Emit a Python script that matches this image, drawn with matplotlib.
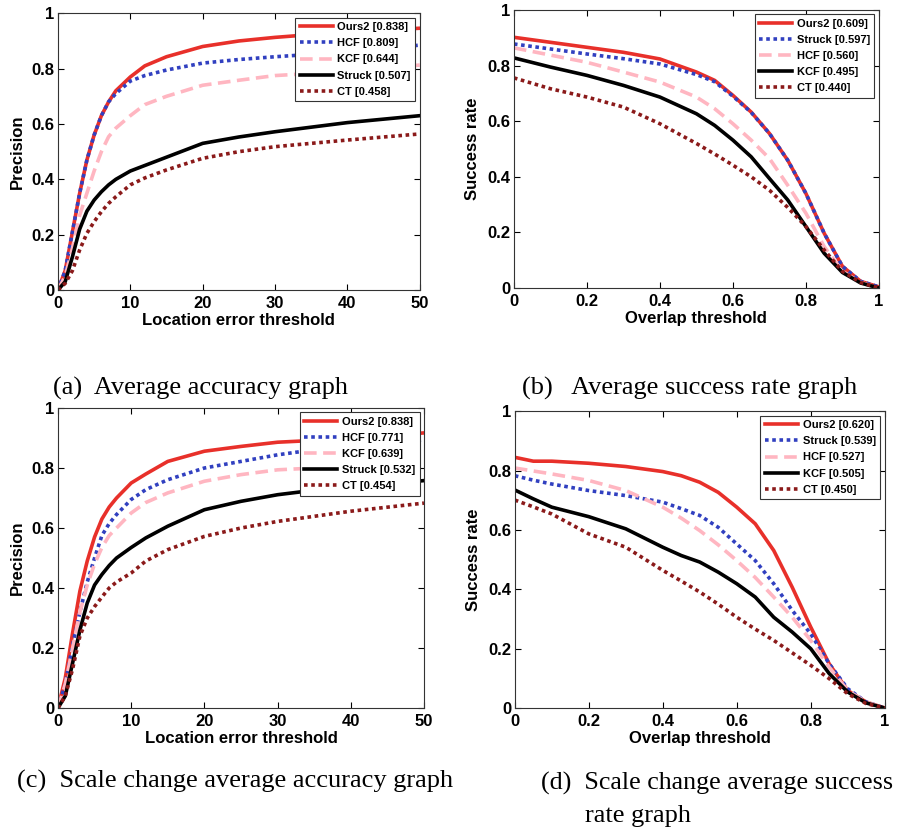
import matplotlib
matplotlib.use('Agg')
import matplotlib.pyplot as plt

plt.rcParams['font.family'] = ['Liberation Sans', 'DejaVu Sans']

# --- (a) average precision ---
a_x = [0, 1, 2, 3, 4, 5, 6, 7, 8, 10, 12, 15, 20, 25, 30, 40, 50]
a_ours2 = [0, 0.07, 0.21, 0.35, 0.47, 0.56, 0.63, 0.68, 0.72, 0.77, 0.81, 0.843, 0.88, 0.90, 0.913, 0.933, 0.946]
a_hcf = [0, 0.07, 0.21, 0.35, 0.47, 0.56, 0.63, 0.68, 0.71, 0.755, 0.775, 0.795, 0.82, 0.833, 0.843, 0.86, 0.885]
a_kcf = [0, 0.05, 0.15, 0.27, 0.35, 0.43, 0.50, 0.554, 0.585, 0.63, 0.67, 0.70, 0.74, 0.758, 0.775, 0.79, 0.813]
a_struck = [0, 0.03, 0.12, 0.22, 0.285, 0.325, 0.355, 0.38, 0.40, 0.43, 0.45, 0.48, 0.53, 0.553, 0.572, 0.605, 0.63]
a_ct = [0, 0.024, 0.07, 0.145, 0.205, 0.247, 0.283, 0.313, 0.337, 0.38, 0.405, 0.434, 0.476, 0.50, 0.518, 0.542, 0.564]

# --- (b) average success rate ---
b_x = [0, 0.1, 0.2, 0.3, 0.4, 0.5, 0.55, 0.6, 0.65, 0.7, 0.75, 0.8, 0.85, 0.9, 0.95, 1.0]
b_ours2 = [0.902, 0.884, 0.866, 0.848, 0.824, 0.777, 0.747, 0.693, 0.633, 0.556, 0.46, 0.34, 0.197, 0.078, 0.024, 0.004]
b_struck = [0.878, 0.86, 0.842, 0.825, 0.806, 0.768, 0.742, 0.69, 0.632, 0.556, 0.46, 0.34, 0.197, 0.078, 0.024, 0.004]
b_hcf = [0.864, 0.838, 0.812, 0.777, 0.741, 0.687, 0.645, 0.591, 0.532, 0.466, 0.37, 0.269, 0.149, 0.06, 0.02, 0.0]
b_kcf = [0.828, 0.795, 0.765, 0.729, 0.687, 0.627, 0.585, 0.532, 0.472, 0.394, 0.317, 0.221, 0.125, 0.056, 0.018, 0.0]
b_ct = [0.756, 0.717, 0.687, 0.651, 0.591, 0.52, 0.482, 0.442, 0.4, 0.352, 0.29, 0.221, 0.137, 0.06, 0.02, 0.0]

# --- (c) scale change precision ---
c_x = [0, 1, 2, 3, 4, 5, 6, 7, 8, 10, 12, 15, 20, 25, 30, 35, 40, 50]
c_ours2 = [0, 0.10, 0.25, 0.39, 0.49, 0.57, 0.63, 0.67, 0.70, 0.75, 0.78, 0.822, 0.856, 0.872, 0.886, 0.892, 0.90, 0.917]
c_hcf = [0, 0.08, 0.21, 0.32, 0.42, 0.50, 0.575, 0.615, 0.645, 0.695, 0.728, 0.761, 0.80, 0.822, 0.844, 0.861, 0.872, 0.894]
c_kcf = [0, 0.08, 0.20, 0.32, 0.41, 0.48, 0.535, 0.575, 0.60, 0.65, 0.685, 0.717, 0.756, 0.778, 0.794, 0.80, 0.811, 0.839]
c_struck = [0, 0.04, 0.15, 0.26, 0.35, 0.41, 0.445, 0.475, 0.50, 0.535, 0.567, 0.606, 0.661, 0.689, 0.711, 0.726, 0.737, 0.758]
c_ct = [0, 0.04, 0.13, 0.24, 0.30, 0.338, 0.37, 0.40, 0.42, 0.45, 0.49, 0.528, 0.572, 0.60, 0.622, 0.639, 0.656, 0.683]

# --- (d) scale change success rate ---
d_x = [0, 0.05, 0.1, 0.2, 0.3, 0.4, 0.45, 0.5, 0.55, 0.6, 0.65, 0.7, 0.75, 0.8, 0.85, 0.9, 0.95, 1.0]
d_ours2 = [0.845, 0.832, 0.832, 0.825, 0.814, 0.797, 0.783, 0.761, 0.727, 0.677, 0.621, 0.531, 0.407, 0.273, 0.149, 0.059, 0.02, 0.0]
d_struck = [0.783, 0.768, 0.755, 0.733, 0.716, 0.694, 0.672, 0.649, 0.609, 0.553, 0.497, 0.419, 0.329, 0.25, 0.149, 0.065, 0.02, 0.0]
d_hcf = [0.809, 0.799, 0.789, 0.767, 0.733, 0.677, 0.64, 0.598, 0.55, 0.497, 0.44, 0.374, 0.306, 0.228, 0.138, 0.059, 0.02, 0.0]
d_kcf = [0.735, 0.705, 0.677, 0.645, 0.604, 0.542, 0.514, 0.492, 0.458, 0.419, 0.374, 0.306, 0.256, 0.20, 0.116, 0.054, 0.017, 0.0]
d_ct = [0.701, 0.678, 0.654, 0.587, 0.542, 0.464, 0.428, 0.391, 0.35, 0.306, 0.266, 0.228, 0.186, 0.144, 0.099, 0.048, 0.015, 0.0]

legend_a = ["Ours2 [0.838]", "HCF [0.809]", "KCF [0.644]", "Struck [0.507]", "CT [0.458]"]
legend_b = ["Ours2 [0.609]", "Struck [0.597]", "HCF [0.560]", "KCF [0.495]", "CT [0.440]"]
legend_c = ["Ours2 [0.838]", "HCF [0.771]", "KCF [0.639]", "Struck [0.532]", "CT [0.454]"]
legend_d = ["Ours2 [0.620]", "Struck [0.539]", "HCF [0.527]", "KCF [0.505]", "CT [0.450]"]

captions = ["(a)  Average accuracy graph", "(b)   Average success rate graph",
            "(c)  Scale change average accuracy graph", "(d)  Scale change average success",
            "rate graph"]

# line styles in legend order: red solid, blue dots, pink dashes, black solid, dark red dots
styles = [
    dict(color='#e8302a', linestyle='-', lw=2.6),
    dict(color='#3140c0', linestyle=(0, (1, 1)), lw=2.6),
    dict(color='#ffb6c1', linestyle=(0, (3.5, 1.8)), lw=2.6),
    dict(color='black', linestyle='-', lw=2.6),
    dict(color='#8b1a1a', linestyle=(0, (1, 1)), lw=2.6),
]

fig = plt.figure(figsize=(9, 8.31), dpi=100)


def panel(rect, x, series, labels, xlabel, ylabel, xmax, xticks, xticklabels):
    ax = fig.add_axes(rect)
    for y, lab, st in zip(series, labels, styles):
        ax.plot(x, y, label=lab, **st)
    ax.set_xlim(0, xmax)
    ax.set_ylim(0, 1)
    ax.set_xticks(xticks)
    ax.set_xticklabels(xticklabels)
    ax.set_yticks([0, 0.2, 0.4, 0.6, 0.8, 1])
    ax.set_yticklabels(['0', '0.2', '0.4', '0.6', '0.8', '1'])
    ax.tick_params(direction='in', top=True, right=True, length=4, width=0.8,
                   labelsize=12, pad=2.5)
    ax.tick_params(axis='x', pad=4)
    for t in ax.get_xticklabels() + ax.get_yticklabels():
        t.set_fontweight('bold')
    ax.set_xlabel(xlabel, fontsize=12, fontweight='bold', labelpad=2)
    ax.set_ylabel(ylabel, fontsize=12, fontweight='bold', labelpad=5)
    for s in ax.spines.values():
        s.set_linewidth(0.8)
        s.set_color('#333333')
    leg = ax.legend(loc='upper right', fontsize=8, handlelength=3.0,
                    labelspacing=0.55, borderaxespad=0.4, handletextpad=0.4,
                    fancybox=False, framealpha=1, borderpad=0.4)
    leg.get_frame().set_edgecolor('#333333')
    leg.get_frame().set_linewidth(0.8)
    for t in leg.get_texts():
        t.set_fontweight('bold')
    return ax


loc_ticks = [0, 10, 20, 30, 40, 50]
ov_ticks = [0, 0.2, 0.4, 0.6, 0.8, 1]
ov_labels = ['0', '0.2', '0.4', '0.6', '0.8', '1']

panel([0.0644, 0.651, 0.402, 0.333], a_x, [a_ours2, a_hcf, a_kcf, a_struck, a_ct],
      legend_a, 'Location error threshold', 'Precision', 50, loc_ticks, [str(v) for v in loc_ticks])
panel([0.571, 0.6534, 0.4056, 0.3345], b_x, [b_ours2, b_struck, b_hcf, b_kcf, b_ct],
      legend_b, 'Overlap threshold', 'Success rate', 1, ov_ticks, ov_labels)
panel([0.0644, 0.148, 0.4067, 0.361], c_x, [c_ours2, c_hcf, c_kcf, c_struck, c_ct],
      legend_c, 'Location error threshold', 'Precision', 50, loc_ticks, [str(v) for v in loc_ticks])
panel([0.572, 0.148, 0.411, 0.357], d_x, [d_ours2, d_struck, d_hcf, d_kcf, d_ct],
      legend_d, 'Overlap threshold', 'Success rate', 1, ov_ticks, ov_labels)

cap_kw = dict(fontsize=19, family='Liberation Serif', va='baseline', ha='left')
fig.text(53 / 900, 1 - 395 / 831, captions[0], **cap_kw)
fig.text(522 / 900, 1 - 395 / 831, captions[1], **cap_kw)
fig.text(17 / 900, 1 - 788 / 831, captions[2], **cap_kw)
fig.text(541 / 900, 1 - 790 / 831, captions[3], fontsize=18.7, family='Liberation Serif',
         va='baseline', ha='left')
fig.text(585 / 900, 1 - 822 / 831, captions[4], **cap_kw)

fig.savefig('out.png', dpi=100)
